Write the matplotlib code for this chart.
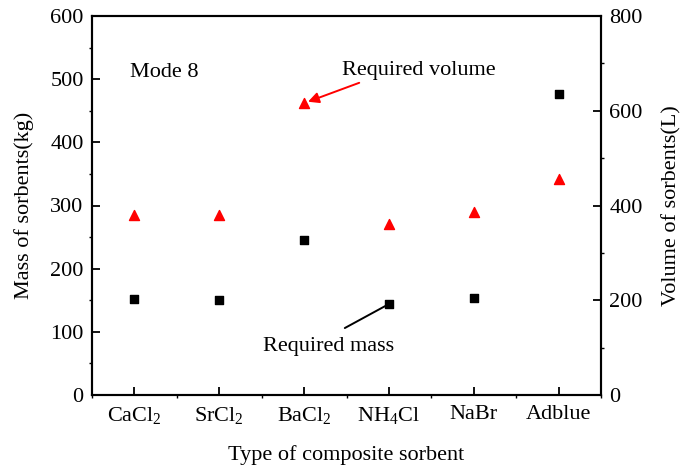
import numpy as np
import matplotlib
matplotlib.use('Agg')
import matplotlib.pyplot as plt
from matplotlib.ticker import MultipleLocator

plt.rcParams['font.family'] = 'Liberation Serif'
plt.rcParams['mathtext.fontset'] = 'custom'
plt.rcParams['mathtext.rm'] = 'Liberation Serif'
plt.rcParams['mathtext.it'] = 'Liberation Serif'

# data
sorbents = ['CaCl$_2$', 'SrCl$_2$', 'BaCl$_2$', 'NH$_4$Cl', 'NaBr', 'Adblue']
mass_kg = [152, 150, 245, 144, 154, 476]
volume_L = [381, 379, 616, 360, 386, 456]

x = np.arange(1, len(sorbents) + 1)

fig = plt.figure(figsize=(6.84, 4.71), dpi=100)
ax = fig.add_axes([92 / 684, 1 - 395 / 471, 509 / 684, 379 / 471])
ax2 = ax.twinx()

ax.scatter(x, mass_kg, s=30, c='k', marker='s', zorder=3)
ax2.scatter(x, volume_L, s=52, c='r', marker='^', zorder=3)

ax.set_xlim(0.5, 6.5)
ax.set_ylim(0, 600)
ax2.set_ylim(0, 800)
ax.set_xticks(x)
ax.set_xticklabels(sorbents)
ax.xaxis.set_minor_locator(MultipleLocator(0.5))
ax.yaxis.set_major_locator(MultipleLocator(100))
ax.yaxis.set_minor_locator(MultipleLocator(50))
ax2.yaxis.set_major_locator(MultipleLocator(200))
ax2.yaxis.set_minor_locator(MultipleLocator(100))

for a in (ax, ax2):
    for s in a.spines.values():
        s.set_linewidth(1.5)
    a.tick_params(which='major', direction='in', length=6, width=1.3, labelsize=16)
    a.tick_params(which='minor', direction='out', length=2, width=1.0)
ax.tick_params(axis='x', pad=7)
ax.tick_params(axis='y', pad=6)
ax2.tick_params(axis='y', pad=6)

ax.set_xlabel('Type of composite sorbent', fontsize=16, labelpad=14)
ax.set_ylabel('Mass of sorbents(kg)', fontsize=16, labelpad=12)
ax2.set_ylabel('Volume of sorbents(L)', fontsize=16, labelpad=14)

ax.text(0.95, 510, 'Mode 8', fontsize=16, va='center')

# required volume label and red arrow
ax2.text(3.45, 686, 'Required volume', fontsize=16, va='center', ha='left')
ax2.annotate('', xy=(3, volume_L[2]), xytext=(3.65, 659),
             arrowprops=dict(arrowstyle='-|>', color='r', lw=1.4, shrinkA=0, shrinkB=3,
                             mutation_scale=16))

# required mass label and black line
ax.text(2.51, 76, 'Required mass', fontsize=16, va='center', ha='left')
ax.annotate('', xy=(4, mass_kg[3]), xytext=(3.48, 106),
            arrowprops=dict(arrowstyle='-', color='k', lw=1.4, shrinkA=0, shrinkB=3))

fig.savefig('out.png', dpi=100)
